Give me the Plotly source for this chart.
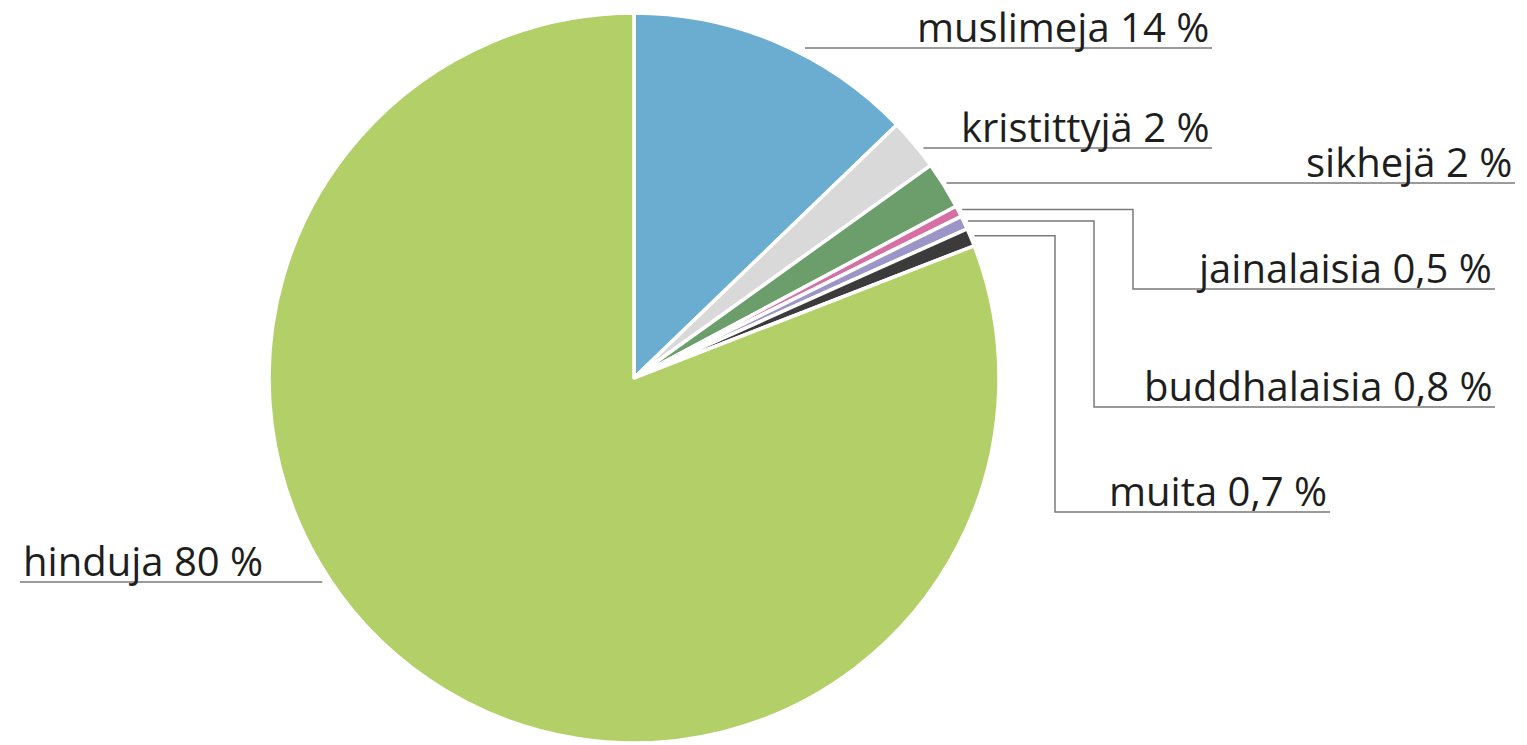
import math
import plotly.graph_objects as go

# ---- data ----
categories = ["muslimeja", "kristittyjä", "sikhejä", "jainalaisia", "buddhalaisia", "muita", "hinduja"]
shares = [12.8, 2.3, 2.1, 0.5, 0.6, 0.8, 80.9]          # slice sizes as drawn
label_pct = ["14 %", "2 %", "2 %", "0,5 %", "0,8 %", "0,7 %", "80 %"]
colors = ["#6AADD0", "#D9D9D9", "#6B9E6A", "#D66FA3", "#9C95C8", "#3B3B3B", "#B3CF68"]

# ---- layout constants (pixels) ----
W, H = 1527, 745
CX, CY, R = 634, 378, 365

def px(x):
    return x / W

def py(y):
    return 1 - y / H

fig = go.Figure(go.Pie(
    labels=categories, values=shares, sort=False, direction="clockwise", rotation=0,
    marker=dict(colors=colors, line=dict(color="white", width=3.5)),
    textinfo="none", hoverinfo="label+percent", showlegend=False,
    domain=dict(x=[px(CX - R), px(CX + R)], y=[py(CY + R), py(CY - R)]),
))

# slice mid angles (degrees clockwise from 12 o'clock)
total = sum(shares)
mids = []
acc = 0
for v in shares:
    mids.append((acc + v / 2) / total * 360)
    acc += v

def rim_point(angle_deg, r):
    a = math.radians(angle_deg)
    return CX + r * math.sin(a), CY - r * math.cos(a)

def circle_x_at(y, side, gap):
    dy = y - CY
    dx = math.sqrt(max(R * R - dy * dy, 0))
    return CX + side * (dx + gap)

# label placement: line y, line end x, elbow x (or None), side, gap from rim
placement = {
    "muslimeja": dict(y=48, x_end=1212, elbow=None, side=1, gap=15),
    "kristittyjä": dict(y=148, x_end=1212, elbow=None, side=1, gap=6),
    "sikhejä": dict(y=183, x_end=1515, elbow=None, side=1, gap=4),
    "jainalaisia": dict(y=289, x_end=1495, elbow=1133, side=1, gap=4),
    "buddhalaisia": dict(y=407, x_end=1495, elbow=1094, side=1, gap=4),
    "muita": dict(y=512, x_end=1330, elbow=1055, side=1, gap=4),
    "hinduja": dict(y=582, x_end=20, elbow=None, side=-1, gap=9),
}

line_style = dict(color="#7A7A7A", width=1.5)
shapes = []
annotations = []
for name, pct, mid in zip(categories, label_pct, mids):
    p = placement[name]
    if p["elbow"] is None:
        x0 = circle_x_at(p["y"], p["side"], p["gap"])
        pts = [(x0, p["y"]), (p["x_end"], p["y"])]
    else:
        sx, sy = rim_point(mid, R + p["gap"])
        pts = [(sx, sy), (p["elbow"], sy), (p["elbow"], p["y"]), (p["x_end"], p["y"])]
    path = "M " + " L ".join(f"{px(x):.5f},{py(y):.5f}" for x, y in pts)
    shapes.append(dict(type="path", path=path, xref="paper", yref="paper", line=line_style))
    if p["side"] == 1:
        ax, anchor = p["x_end"] - 2, "right"
    else:
        ax, anchor = p["x_end"] + 2, "left"
    annotations.append(dict(
        text=f"{name} {pct}", x=px(ax), y=py(p["y"] + 7), xref="paper", yref="paper",
        xanchor=anchor, yanchor="bottom", showarrow=False, borderpad=0,
        font=dict(family="Open Sans", size=40, color="#1E1E1E"),
    ))

fig.update_layout(
    width=W, height=H, margin=dict(l=0, r=0, t=0, b=0),
    paper_bgcolor="white", plot_bgcolor="white",
    shapes=shapes, annotations=annotations,
)

fig.write_html("out.html")
